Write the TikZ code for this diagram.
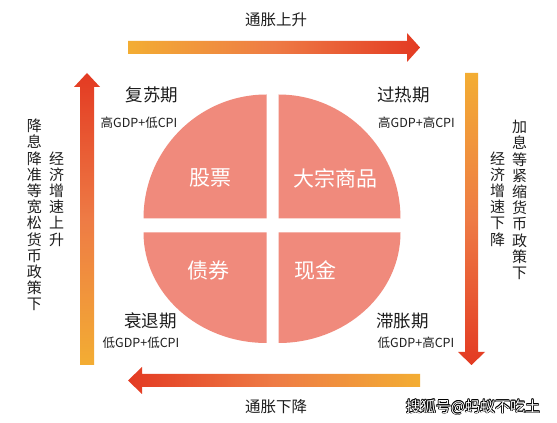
\documentclass[tikz,border=0pt]{standalone}
\usepackage{fontspec}
\setmainfont{Noto Sans CJK SC}
\definecolor{pie}{HTML}{F08A7C}
\definecolor{aorange}{HTML}{F3AD33}
\definecolor{amid}{HTML}{EE7B45}
\definecolor{ared}{HTML}{E33A22}
\definecolor{ink}{HTML}{1E1E1E}
\tikzset{
  phase/.style={text=ink, font=\fontsize{17.5}{18}\selectfont, inner sep=0pt},
  cond/.style={text=ink, font=\fontsize{12.5}{13}\selectfont, inner sep=0pt},
  asset/.style={text=white, font=\fontsize{21}{22}\selectfont, inner sep=0pt},
  vcol/.style={text=ink, font=\fontsize{15}{16.2}\selectfont, align=center, inner sep=0pt},
  infl/.style={text=ink, font=\fontsize{15.5}{16}\selectfont, inner sep=0pt},
  quad/.style={fill=pie},
}
\begin{document}
\begin{tikzpicture}[x=1pt,y=1pt]
\useasboundingbox[fill=white] (0,0) rectangle (557,423);
% pie quadrants
\fill[quad] (266.5,204.5) -- (143.5,204.5) arc[start angle=180,end angle=90,x radius=123,y radius=124] -- cycle;
\fill[quad] (278.5,204.5) -- (278.5,328.5) arc[start angle=90,end angle=0,x radius=122,y radius=124] -- cycle;
\fill[quad] (266.5,190.5) -- (143.5,190.5) arc[start angle=180,end angle=270,x radius=123,y radius=110.5] -- cycle;
\fill[quad] (278.5,190.5) -- (278.5,80) arc[start angle=270,end angle=360,x radius=122,y radius=110.5] -- cycle;
% arrows
\shade[left color=aorange, right color=ared, middle color=amid]
  (128,369) -- (407,369) -- (407,361) -- (420,375.5) -- (407,390) -- (407,382) -- (128,382) -- cycle;
\shade[top color=ared, bottom color=aorange, middle color=amid]
  (80,58) -- (94,58) -- (94,336) -- (100,336) -- (87,350) -- (74,336) -- (80,336) -- cycle;
\shade[top color=aorange, bottom color=ared, middle color=amid]
  (465,350) -- (478,350) -- (478,71) -- (485,71) -- (471.5,58) -- (458,71) -- (465,71) -- cycle;
\shade[left color=ared, right color=aorange, middle color=amid]
  (420,49) -- (142,49) -- (142,56) -- (128,42.5) -- (142,29) -- (142,36) -- (420,36) -- cycle;
% inflation labels
\node[infl] (up) at (276,403) {通胀上升};
\node[infl] (down) at (276,16) {通胀下降};
% phases
\node[phase] (recov) at (152,328) {复苏期};
\node[cond] (recovc) at (139,300) {高GDP+低CPI};
\node[phase] (over) at (403.5,328) {过热期};
\node[cond] (overc) at (416.5,300) {高GDP+高CPI};
\node[phase] (reces) at (150.5,102) {衰退期};
\node[cond] (recesc) at (141,80) {低GDP+低CPI};
\node[phase] (stag) at (402.5,102) {滞胀期};
\node[cond] (stagc) at (416,80) {低GDP+高CPI};
% assets
\node[asset] (stock) at (210,245) {股票};
\node[asset] (comm) at (335,245) {大宗商品};
\node[asset] (bond) at (208,153) {债券};
\node[asset] (cash) at (315,153) {现金};
% vertical texts
\node[vcol] (lout) at (34.5,208) {降\\息\\降\\准\\等\\宽\\松\\货\\币\\政\\策\\下};
\node[vcol] (lin) at (56.5,224) {经\\济\\增\\速\\上\\升};
\node[vcol] (rout) at (519.5,223) {加\\息\\等\\紧\\缩\\货\\币\\政\\策\\下};
\node[vcol] (rin) at (497.5,224) {经\\济\\增\\速\\下\\降};
% watermark
\foreach \dx/\dy in {-0.7/0,0.7/0,0/-0.7,0/0.7,-0.5/-0.5,0.5/0.5,-0.5/0.5,0.5/-0.5}
  \node[text=black, font=\fontsize{15}{16}\selectfont, inner sep=0pt] at (473+\dx,16+\dy) {搜狐号@蚂蚁不吃土};
\node[text=white, font=\fontsize{15}{16}\selectfont, inner sep=0pt] (wm) at (473,16) {搜狐号@蚂蚁不吃土};
\end{tikzpicture}
\end{document}
